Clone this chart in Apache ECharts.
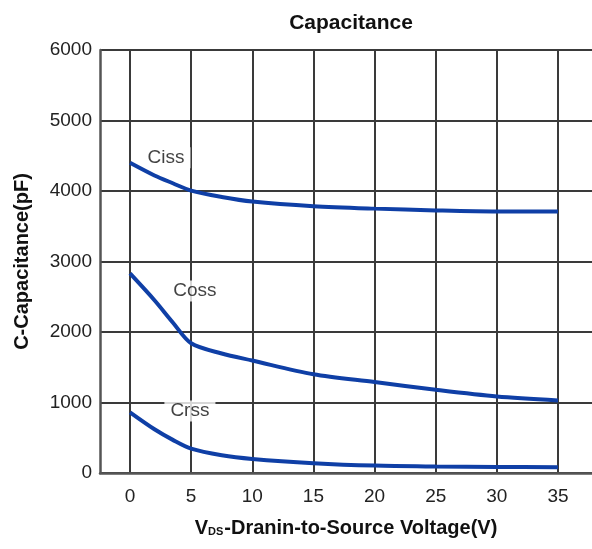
<!DOCTYPE html>
<html>
<head>
<meta charset="utf-8">
<script src="https://cdn.jsdelivr.net/npm/echarts@6/dist/echarts.min.js"></script>
<style>
  html, body { margin: 0; padding: 0; background: #fff; }
  #chart { width: 592px; height: 549px; }
</style>
</head>
<body>
<div id="chart"></div>
<script>
// drain-source voltage (V) and capacitance (pF)
const voltage = [0, 2, 3.5, 5, 7.5, 10, 15, 20, 25, 30, 35];
const ciss = [4400, 4220, 4110, 4005, 3915, 3850, 3785, 3750, 3725, 3710, 3710];
const coss = [2830, 2450, 2135, 1840, 1695, 1595, 1400, 1290, 1180, 1085, 1030];
const crss = [860, 620, 470, 345, 252, 200, 140, 105, 92, 85, 82];

const xTicks = [0, 5, 10, 15, 20, 25, 30, 35];
const yTicks = [0, 1000, 2000, 3000, 4000, 5000, 6000];

const curveLabels = [
  { name: 'Ciss', x: 2.95, y: 4470 },
  { name: 'Coss', x: 5.3, y: 2580 },
  { name: 'Crss', x: 4.9, y: 880 }
];

const FONT = '"Liberation Sans", Arial, sans-serif';
const LINE = '#0f3fa6';
const GRID = '#3a3a3a';

function pairs(values) {
  return voltage.map((v, i) => [v, values[i]]);
}

function curve(name, values) {
  return {
    name: name,
    type: 'line',
    xAxisIndex: 1,
    yAxisIndex: 1,
    data: pairs(values),
    smooth: 0.3,
    showSymbol: false,
    lineStyle: { color: LINE, width: 4 },
    z: 3
  };
}

const chart = echarts.init(document.getElementById('chart'));

chart.setOption({
  backgroundColor: '#fff',
  animation: false,
  title: {
    text: 'Capacitance',
    left: 346,
    top: 8,
    textAlign: 'center',
    textStyle: {
      fontFamily: FONT,
      fontSize: 21,
      fontWeight: 'bold',
      color: '#111'
    }
  },
  grid: [
    { left: 100, right: 0, top: 50, bottom: 76, outerBoundsMode: 'none' },
    { left: 130, right: 34, top: 50, bottom: 76, outerBoundsMode: 'none' }
  ],
  xAxis: [
    {
      gridIndex: 0,
      type: 'value',
      min: -2.5,
      max: 37.9,
      axisLine: { show: true, onZero: false, lineStyle: { color: '#555', width: 2.5 } },
      axisTick: { show: false },
      axisLabel: { show: false },
      splitLine: { show: false },
      name: '{v|V}{s|DS}{n|-Dranin-to-Source Voltage(V)}',
      nameLocation: 'middle',
      nameGap: 45,
      nameTextStyle: {
        rich: {
          v: { fontFamily: FONT, fontSize: 20, fontWeight: 'bold', color: '#111' },
          s: { fontFamily: FONT, fontSize: 11, fontWeight: 'bold', color: '#111', padding: [8, 1, 0, 0] },
          n: { fontFamily: FONT, fontSize: 20, fontWeight: 'bold', color: '#111' }
        }
      }
    },
    {
      gridIndex: 1,
      type: 'value',
      min: xTicks[0],
      max: xTicks[xTicks.length - 1],
      interval: 5,
      axisLine: { show: false },
      axisTick: { show: false },
      axisLabel: {
        margin: 14,
        fontFamily: FONT,
        fontSize: 19,
        color: '#222'
      },
      splitLine: { show: true, lineStyle: { color: GRID, width: 2 } }
    }
  ],
  yAxis: [
    {
      gridIndex: 0,
      type: 'value',
      min: yTicks[0],
      max: yTicks[yTicks.length - 1],
      interval: 1000,
      axisLine: { show: true, onZero: false, lineStyle: { color: '#555', width: 2.5 } },
      axisTick: { show: false },
      axisLabel: {
        margin: 8,
        fontFamily: FONT,
        fontSize: 19,
        color: '#222',
        formatter: (v) => String(v)
      },
      splitLine: { show: true, lineStyle: { color: GRID, width: 2 } },
      name: 'C-Capacitance(pF)',
      nameLocation: 'middle',
      nameGap: 68,
      nameTextStyle: {
        fontFamily: FONT,
        fontSize: 20,
        fontWeight: 'bold',
        color: '#111'
      }
    },
    {
      gridIndex: 1,
      type: 'value',
      min: yTicks[0],
      max: yTicks[yTicks.length - 1],
      show: false
    }
  ],
  series: [
    curve('Ciss', ciss),
    curve('Coss', coss),
    curve('Crss', crss),
    {
      name: 'labels',
      type: 'scatter',
      xAxisIndex: 1,
      yAxisIndex: 1,
      symbolSize: 0,
      data: curveLabels.map((d) => ({ name: d.name, value: [d.x, d.y] })),
      label: {
        show: true,
        position: 'inside',
        formatter: '{b}',
        fontFamily: FONT,
        fontSize: 19,
        color: '#111',
        textBorderWidth: 0,
        backgroundColor: '#fff',
        padding: [1, 6]
      },
      z: 1
    }
  ]
});
</script>
</body>
</html>
